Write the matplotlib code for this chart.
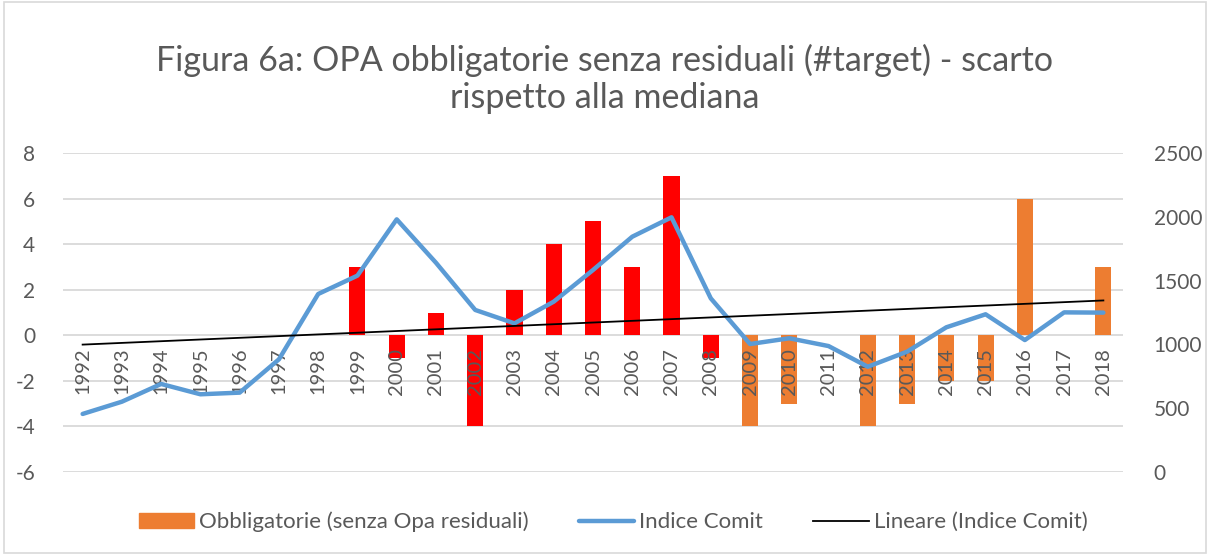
import matplotlib
matplotlib.use("Agg")
import matplotlib.pyplot as plt
import numpy as np
from matplotlib.patches import Patch, Rectangle
from matplotlib.lines import Line2D

years = [str(y) for y in range(1992, 2019)]
scarto = [0, 0, 0, 0, 0, 0, 0, 3, -1, 1, -4, 2, 4, 5, 3, 7, -1,
          -4, -3, 0, -4, -3, -2, -2, 6, 0, 3]
bar_colors = ["#FF0000"] * 17 + ["#ED7D31"] * 10
indice_comit = [455, 551, 690, 609, 622, 883, 1395, 1539, 1980, 1640, 1270,
                1165, 1335, 1583, 1844, 1996, 1361, 1003, 1048, 987, 825,
                943, 1134, 1236, 1034, 1251, 1249]

left_ticks = [-6, -4, -2, 0, 2, 4, 6, 8]
right_ticks = [0, 500, 1000, 1500, 2000, 2500]

title = "Figura 6a: OPA obbligatorie senza residuali (#target) - scarto\nrispetto alla mediana"
legend_labels = ["Obbligatorie (senza Opa residuali)", "Indice Comit", "Lineare (Indice Comit)"]

FONT = ["Lato", "DejaVu Sans"]
plt.rcParams["font.family"] = FONT
GRAY = "#595959"
GRID = "#D9D9D9"

fig = plt.figure(figsize=(12.1, 5.55), dpi=100)
ax = fig.add_axes([63 / 1210, 1 - 472 / 555, (1123 - 63) / 1210, (472 - 153) / 555])

x = np.arange(len(years))
for s in ["top", "left", "right", "bottom"]:
    ax.spines[s].set_visible(False)
ax.spines["bottom"].set_position(("data", 0))

for t in left_ticks:
    ax.axhline(t, color=GRID, linewidth=1.3, zorder=0.5)
ax.bar(x, scarto, width=0.41, color=bar_colors, zorder=1)
ax.set_xlim(-0.5, len(years) - 0.5)
ax.set_ylim(-6, 8)
ax.set_yticks(left_ticks)
ax.set_yticklabels([str(t) for t in left_ticks])
ax.set_xticks(x)
ax.set_xticklabels(years)
ax.tick_params(axis="x", length=0, pad=9, labelsize=14.5, labelcolor=GRAY, labelrotation=90)
ax.tick_params(axis="y", length=0, pad=20, labelsize=15, labelcolor=GRAY)

ax2 = ax.twinx()
ax2.plot(x, indice_comit, color="#5B9BD5", linewidth=3.2, solid_capstyle="round",
         solid_joinstyle="round", zorder=3)
coef = np.polyfit(x, indice_comit, 1)
trend = np.polyval(coef, x)
ax2.plot(x, trend, color="black", linewidth=1.3, zorder=4)
ax2.set_ylim(0, 2500)
ax2.set_yticks(right_ticks)
ax2.set_yticklabels([str(t) for t in right_ticks])
ax2.tick_params(axis="y", length=0, pad=22, labelsize=15, labelcolor=GRAY)
for s in ax2.spines.values():
    s.set_visible(False)
ax2.set_xlim(-0.5, len(years) - 0.5)

fig.text(0.5, 1 - 79 / 555, title, ha="center", va="center", fontsize=24.5,
         color=GRAY, linespacing=1.2)

handles = [Patch(color="#ED7D31"),
           Line2D([0], [0], color="#5B9BD5", linewidth=3.2, solid_capstyle="round"),
           Line2D([0], [0], color="black", linewidth=1.3)]
fig.legend(handles, legend_labels, loc="center", bbox_to_anchor=(613 / 1210, 1 - 522 / 555),
           ncol=3, frameon=False, fontsize=16, labelcolor=GRAY, handlelength=2.5,
           handleheight=0.7, handletextpad=0.22, columnspacing=2.25)

fig.patches.append(Rectangle((0.003, 0.004), 0.994, 0.992, transform=fig.transFigure,
                             fill=False, edgecolor=GRID, linewidth=1.2))

fig.savefig("out.png", dpi=100)
